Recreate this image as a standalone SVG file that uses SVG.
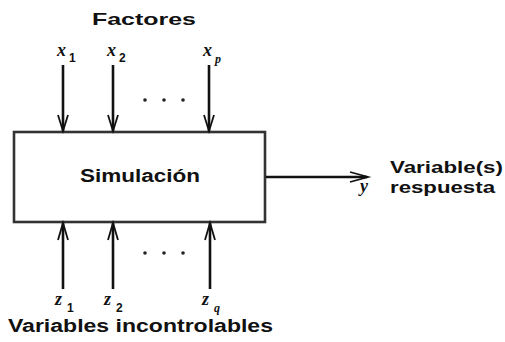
<svg xmlns="http://www.w3.org/2000/svg" width="505" height="342" viewBox="0 0 505 342">
<defs>
<style>
.lbl{font-family:"Liberation Sans",Arial,sans-serif;font-weight:bold;fill:#111}
.var{font-family:"Liberation Serif","Times New Roman",serif;font-style:italic;font-weight:bold;fill:#111}
.sub{font-family:"Liberation Sans",Arial,sans-serif;font-weight:bold;fill:#111}
.conn{stroke:#111;stroke-width:2.6;fill:none}
.head{stroke:#111;stroke-width:1.8;fill:none;stroke-linejoin:miter}
.dot{fill:#222}
</style>
</defs>
<rect width="505" height="342" fill="#fff"/>
<text class="lbl" x="92" y="25" font-size="17" textLength="104" lengthAdjust="spacingAndGlyphs">Factores</text>
<g id="simulacion">
<rect x="14" y="132" width="251" height="90" fill="#fff" stroke="#333" stroke-width="2.6"/>
<text class="lbl" x="80" y="182" font-size="18" textLength="120" lengthAdjust="spacingAndGlyphs">Simulación</text>
</g>
<g id="x1"><text class="var" x="57" y="56" font-size="18">x</text><text class="sub" x="69" y="62" font-size="12">1</text></g>
<g id="x2"><text class="var" x="107" y="56" font-size="18">x</text><text class="sub" x="119" y="62" font-size="12">2</text></g>
<g id="xp"><text class="var" x="203" y="56" font-size="18">x</text><text class="var" x="215" y="63" font-size="12">p</text></g>
<g id="z1"><text class="var" x="55" y="305" font-size="18">z</text><text class="sub" x="67" y="312" font-size="12">1</text></g>
<g id="z2"><text class="var" x="104" y="305" font-size="18">z</text><text class="sub" x="116" y="312" font-size="12">2</text></g>
<g id="zq"><text class="var" x="202" y="305" font-size="18">z</text><text class="var" x="214" y="312" font-size="12">q</text></g>
<g id="respuesta">
<text class="var" x="360" y="192" font-size="18">y</text>
<text class="lbl" x="390" y="173" font-size="17" textLength="113" lengthAdjust="spacingAndGlyphs">Variable(s)</text>
<text class="lbl" x="390" y="193" font-size="17" textLength="105" lengthAdjust="spacingAndGlyphs">respuesta</text>
</g>
<text class="lbl" x="8" y="332" font-size="18" textLength="265" lengthAdjust="spacingAndGlyphs">Variables incontrolables</text>
<g id="dots">
<circle class="dot" cx="145" cy="100" r="1.8"/><circle class="dot" cx="164" cy="100" r="1.8"/><circle class="dot" cx="183" cy="100" r="1.8"/>
<circle class="dot" cx="145" cy="253" r="1.8"/><circle class="dot" cx="164" cy="253" r="1.8"/><circle class="dot" cx="183" cy="253" r="1.8"/>
</g>
<g id="connectors">
<path class="conn" d="M63,65 V131"/><path class="head" d="M58,115 L63,131 L68,115"/>
<path class="conn" d="M113,65 V131" stroke-width="3"/><path class="head" d="M108,115 L113,131 L118,115"/>
<path class="conn" d="M209,65 V131"/><path class="head" d="M204,115 L209,131 L214,115"/>
<path class="conn" d="M63,289 V223"/><path class="head" d="M58,240 L63,223 L68,240"/>
<path class="conn" d="M113,289 V223" stroke-width="3"/><path class="head" d="M108,240 L113,223 L118,240"/>
<path class="conn" d="M210,289 V223" stroke-width="3"/><path class="head" d="M205,240 L210,223 L215,240"/>
<path class="conn" d="M266,177 H367"/><path class="head" d="M350,172 L368,177 L350,182"/>
</g>
</svg>
